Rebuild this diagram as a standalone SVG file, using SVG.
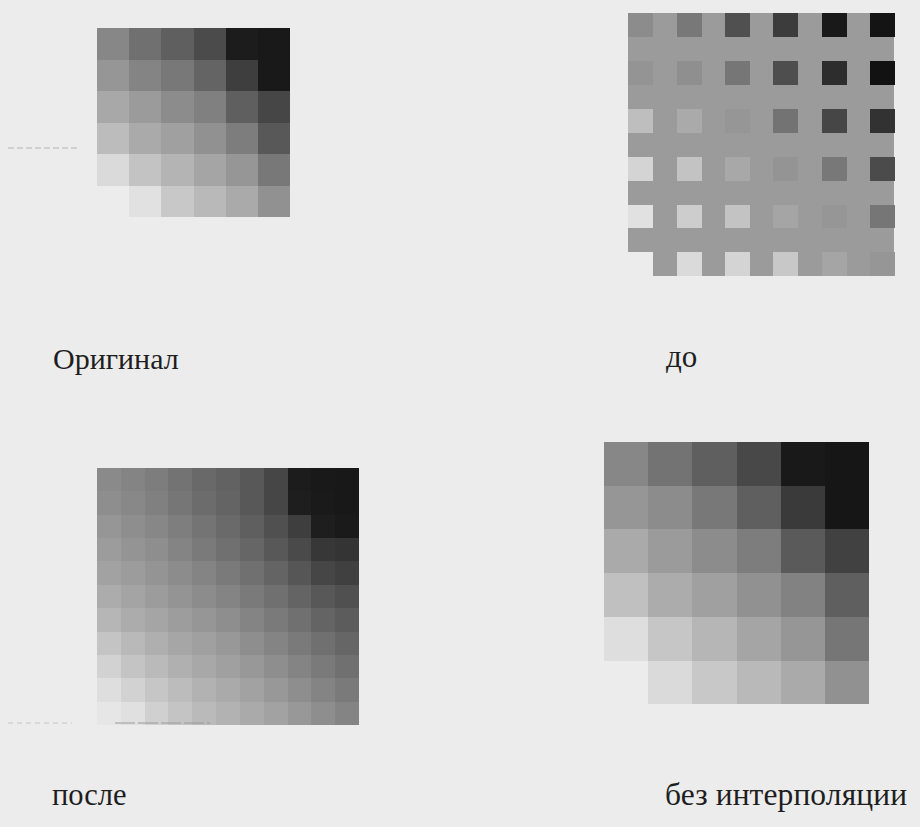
<svg xmlns="http://www.w3.org/2000/svg" width="920" height="827" viewBox="0 0 920 827">
<style>
.grid{shape-rendering:crispEdges}
.mark{stroke-linecap:butt;fill:none}
</style>
<rect x="0" y="0" width="920" height="827" fill="#ececec"/>
<g id="original" class="grid" transform="translate(97,28) scale(32.17,31.5)">
<rect x="0" y="0" width="1" height="1" fill="#878787"/><rect x="1" y="0" width="1" height="1" fill="#707070"/><rect x="2" y="0" width="1" height="1" fill="#5f5f5f"/><rect x="3" y="0" width="1" height="1" fill="#4b4b4b"/><rect x="4" y="0" width="1" height="1" fill="#1c1c1c"/><rect x="5" y="0" width="1" height="1" fill="#191919"/>
<rect x="0" y="1" width="1" height="1" fill="#969696"/><rect x="1" y="1" width="1" height="1" fill="#848484"/><rect x="2" y="1" width="1" height="1" fill="#787878"/><rect x="3" y="1" width="1" height="1" fill="#646464"/><rect x="4" y="1" width="1" height="1" fill="#3e3e3e"/><rect x="5" y="1" width="1" height="1" fill="#191919"/>
<rect x="0" y="2" width="1" height="1" fill="#a8a8a8"/><rect x="1" y="2" width="1" height="1" fill="#9b9b9b"/><rect x="2" y="2" width="1" height="1" fill="#8c8c8c"/><rect x="3" y="2" width="1" height="1" fill="#808080"/><rect x="4" y="2" width="1" height="1" fill="#5f5f5f"/><rect x="5" y="2" width="1" height="1" fill="#464646"/>
<rect x="0" y="3" width="1" height="1" fill="#bcbcbc"/><rect x="1" y="3" width="1" height="1" fill="#aaaaaa"/><rect x="2" y="3" width="1" height="1" fill="#a0a0a0"/><rect x="3" y="3" width="1" height="1" fill="#919191"/><rect x="4" y="3" width="1" height="1" fill="#7d7d7d"/><rect x="5" y="3" width="1" height="1" fill="#585858"/>
<rect x="0" y="4" width="1" height="1" fill="#dadada"/><rect x="1" y="4" width="1" height="1" fill="#c3c3c3"/><rect x="2" y="4" width="1" height="1" fill="#b4b4b4"/><rect x="3" y="4" width="1" height="1" fill="#a5a5a5"/><rect x="4" y="4" width="1" height="1" fill="#969696"/><rect x="5" y="4" width="1" height="1" fill="#787878"/>
<rect x="1" y="5" width="1" height="1" fill="#e1e1e1"/><rect x="2" y="5" width="1" height="1" fill="#c8c8c8"/><rect x="3" y="5" width="1" height="1" fill="#b9b9b9"/><rect x="4" y="5" width="1" height="1" fill="#aaaaaa"/><rect x="5" y="5" width="1" height="1" fill="#919191"/>
</g>
<g id="do" class="grid">
<path d="M628,13 H894 V276 H652.5 V252 H628 Z" fill="#9b9b9b"/>
<g transform="translate(628.3,13.3) scale(48.33,47.8)">
<rect x="0" y="0" width=".517" height=".5" fill="#8c8c8c"/><rect x="1" y="0" width=".517" height=".5" fill="#787878"/><rect x="2" y="0" width=".517" height=".5" fill="#505050"/><rect x="3" y="0" width=".517" height=".5" fill="#3c3c3c"/><rect x="4" y="0" width=".517" height=".5" fill="#191919"/><rect x="5" y="0" width=".517" height=".5" fill="#141414"/>
<rect x="0" y="1" width=".517" height=".5" fill="#949494"/><rect x="1" y="1" width=".517" height=".5" fill="#8f8f8f"/><rect x="2" y="1" width=".517" height=".5" fill="#767676"/><rect x="3" y="1" width=".517" height=".5" fill="#4e4e4e"/><rect x="4" y="1" width=".517" height=".5" fill="#2d2d2d"/><rect x="5" y="1" width=".517" height=".5" fill="#121212"/>
<rect x="0" y="2" width=".517" height=".5" fill="#bebebe"/><rect x="1" y="2" width=".517" height=".5" fill="#aaaaaa"/><rect x="2" y="2" width=".517" height=".5" fill="#969696"/><rect x="3" y="2" width=".517" height=".5" fill="#737373"/><rect x="4" y="2" width=".517" height=".5" fill="#464646"/><rect x="5" y="2" width=".517" height=".5" fill="#323232"/>
<rect x="0" y="3" width=".517" height=".5" fill="#d4d4d4"/><rect x="1" y="3" width=".517" height=".5" fill="#c3c3c3"/><rect x="2" y="3" width=".517" height=".5" fill="#a8a8a8"/><rect x="3" y="3" width=".517" height=".5" fill="#949494"/><rect x="4" y="3" width=".517" height=".5" fill="#787878"/><rect x="5" y="3" width=".517" height=".5" fill="#4b4b4b"/>
<rect x="0" y="4" width=".517" height=".5" fill="#e1e1e1"/><rect x="1" y="4" width=".517" height=".5" fill="#cdcdcd"/><rect x="2" y="4" width=".517" height=".5" fill="#c3c3c3"/><rect x="3" y="4" width=".517" height=".5" fill="#a5a5a5"/><rect x="4" y="4" width=".517" height=".5" fill="#969696"/><rect x="5" y="4" width=".517" height=".5" fill="#767676"/>
<rect x="1" y="5" width=".517" height=".5" fill="#dadada"/><rect x="2" y="5" width=".517" height=".5" fill="#d4d4d4"/><rect x="3" y="5" width=".517" height=".5" fill="#c8c8c8"/><rect x="4" y="5" width=".517" height=".5" fill="#a5a5a5"/><rect x="5" y="5" width=".517" height=".5" fill="#969696"/>
</g>
</g>
<g id="posle" class="grid" transform="translate(97,468) scale(23.82,23.36)">
<rect x="0" y="0" width="1" height="1" fill="#8a8a8a"/><rect x="1" y="0" width="1" height="1" fill="#848484"/><rect x="2" y="0" width="1" height="1" fill="#7d7d7d"/><rect x="3" y="0" width="1" height="1" fill="#737373"/><rect x="4" y="0" width="1" height="1" fill="#696969"/><rect x="5" y="0" width="1" height="1" fill="#626262"/><rect x="6" y="0" width="1" height="1" fill="#585858"/><rect x="7" y="0" width="1" height="1" fill="#464646"/><rect x="8" y="0" width="1" height="1" fill="#1c1c1c"/><rect x="9" y="0" width="1" height="1" fill="#191919"/><rect x="10" y="0" width="1" height="1" fill="#181818"/>
<rect x="0" y="1" width="1" height="1" fill="#8e8e8e"/><rect x="1" y="1" width="1" height="1" fill="#888888"/><rect x="2" y="1" width="1" height="1" fill="#808080"/><rect x="3" y="1" width="1" height="1" fill="#767676"/><rect x="4" y="1" width="1" height="1" fill="#6c6c6c"/><rect x="5" y="1" width="1" height="1" fill="#646464"/><rect x="6" y="1" width="1" height="1" fill="#585858"/><rect x="7" y="1" width="1" height="1" fill="#464646"/><rect x="8" y="1" width="1" height="1" fill="#1e1e1e"/><rect x="9" y="1" width="1" height="1" fill="#1a1a1a"/><rect x="10" y="1" width="1" height="1" fill="#181818"/>
<rect x="0" y="2" width="1" height="1" fill="#969696"/><rect x="1" y="2" width="1" height="1" fill="#8e8e8e"/><rect x="2" y="2" width="1" height="1" fill="#878787"/><rect x="3" y="2" width="1" height="1" fill="#7e7e7e"/><rect x="4" y="2" width="1" height="1" fill="#747474"/><rect x="5" y="2" width="1" height="1" fill="#6a6a6a"/><rect x="6" y="2" width="1" height="1" fill="#5f5f5f"/><rect x="7" y="2" width="1" height="1" fill="#505050"/><rect x="8" y="2" width="1" height="1" fill="#3e3e3e"/><rect x="9" y="2" width="1" height="1" fill="#1e1e1e"/><rect x="10" y="2" width="1" height="1" fill="#1a1a1a"/>
<rect x="0" y="3" width="1" height="1" fill="#9c9c9c"/><rect x="1" y="3" width="1" height="1" fill="#949494"/><rect x="2" y="3" width="1" height="1" fill="#8e8e8e"/><rect x="3" y="3" width="1" height="1" fill="#848484"/><rect x="4" y="3" width="1" height="1" fill="#7a7a7a"/><rect x="5" y="3" width="1" height="1" fill="#707070"/><rect x="6" y="3" width="1" height="1" fill="#666666"/><rect x="7" y="3" width="1" height="1" fill="#585858"/><rect x="8" y="3" width="1" height="1" fill="#4a4a4a"/><rect x="9" y="3" width="1" height="1" fill="#373737"/><rect x="10" y="3" width="1" height="1" fill="#343434"/>
<rect x="0" y="4" width="1" height="1" fill="#a2a2a2"/><rect x="1" y="4" width="1" height="1" fill="#9c9c9c"/><rect x="2" y="4" width="1" height="1" fill="#949494"/><rect x="3" y="4" width="1" height="1" fill="#8c8c8c"/><rect x="4" y="4" width="1" height="1" fill="#848484"/><rect x="5" y="4" width="1" height="1" fill="#7a7a7a"/><rect x="6" y="4" width="1" height="1" fill="#707070"/><rect x="7" y="4" width="1" height="1" fill="#646464"/><rect x="8" y="4" width="1" height="1" fill="#565656"/><rect x="9" y="4" width="1" height="1" fill="#464646"/><rect x="10" y="4" width="1" height="1" fill="#404040"/>
<rect x="0" y="5" width="1" height="1" fill="#acacac"/><rect x="1" y="5" width="1" height="1" fill="#a4a4a4"/><rect x="2" y="5" width="1" height="1" fill="#9c9c9c"/><rect x="3" y="5" width="1" height="1" fill="#949494"/><rect x="4" y="5" width="1" height="1" fill="#8c8c8c"/><rect x="5" y="5" width="1" height="1" fill="#848484"/><rect x="6" y="5" width="1" height="1" fill="#7a7a7a"/><rect x="7" y="5" width="1" height="1" fill="#707070"/><rect x="8" y="5" width="1" height="1" fill="#646464"/><rect x="9" y="5" width="1" height="1" fill="#585858"/><rect x="10" y="5" width="1" height="1" fill="#505050"/>
<rect x="0" y="6" width="1" height="1" fill="#b6b6b6"/><rect x="1" y="6" width="1" height="1" fill="#acacac"/><rect x="2" y="6" width="1" height="1" fill="#a5a5a5"/><rect x="3" y="6" width="1" height="1" fill="#9d9d9d"/><rect x="4" y="6" width="1" height="1" fill="#969696"/><rect x="5" y="6" width="1" height="1" fill="#8e8e8e"/><rect x="6" y="6" width="1" height="1" fill="#848484"/><rect x="7" y="6" width="1" height="1" fill="#7a7a7a"/><rect x="8" y="6" width="1" height="1" fill="#707070"/><rect x="9" y="6" width="1" height="1" fill="#646464"/><rect x="10" y="6" width="1" height="1" fill="#5c5c5c"/>
<rect x="0" y="7" width="1" height="1" fill="#c4c4c4"/><rect x="1" y="7" width="1" height="1" fill="#b9b9b9"/><rect x="2" y="7" width="1" height="1" fill="#afafaf"/><rect x="3" y="7" width="1" height="1" fill="#a6a6a6"/><rect x="4" y="7" width="1" height="1" fill="#a0a0a0"/><rect x="5" y="7" width="1" height="1" fill="#989898"/><rect x="6" y="7" width="1" height="1" fill="#8e8e8e"/><rect x="7" y="7" width="1" height="1" fill="#848484"/><rect x="8" y="7" width="1" height="1" fill="#7a7a7a"/><rect x="9" y="7" width="1" height="1" fill="#707070"/><rect x="10" y="7" width="1" height="1" fill="#666666"/>
<rect x="0" y="8" width="1" height="1" fill="#d2d2d2"/><rect x="1" y="8" width="1" height="1" fill="#c4c4c4"/><rect x="2" y="8" width="1" height="1" fill="#bababa"/><rect x="3" y="8" width="1" height="1" fill="#b0b0b0"/><rect x="4" y="8" width="1" height="1" fill="#a8a8a8"/><rect x="5" y="8" width="1" height="1" fill="#a0a0a0"/><rect x="6" y="8" width="1" height="1" fill="#989898"/><rect x="7" y="8" width="1" height="1" fill="#8e8e8e"/><rect x="8" y="8" width="1" height="1" fill="#848484"/><rect x="9" y="8" width="1" height="1" fill="#7a7a7a"/><rect x="10" y="8" width="1" height="1" fill="#707070"/>
<rect x="0" y="9" width="1" height="1" fill="#dedede"/><rect x="1" y="9" width="1" height="1" fill="#d2d2d2"/><rect x="2" y="9" width="1" height="1" fill="#c6c6c6"/><rect x="3" y="9" width="1" height="1" fill="#bcbcbc"/><rect x="4" y="9" width="1" height="1" fill="#b2b2b2"/><rect x="5" y="9" width="1" height="1" fill="#aaaaaa"/><rect x="6" y="9" width="1" height="1" fill="#a2a2a2"/><rect x="7" y="9" width="1" height="1" fill="#989898"/><rect x="8" y="9" width="1" height="1" fill="#8e8e8e"/><rect x="9" y="9" width="1" height="1" fill="#848484"/><rect x="10" y="9" width="1" height="1" fill="#7a7a7a"/>
<rect x="0" y="10" width="1" height="1" fill="#e6e6e6"/><rect x="1" y="10" width="1" height="1" fill="#e0e0e0"/><rect x="2" y="10" width="1" height="1" fill="#d0d0d0"/><rect x="3" y="10" width="1" height="1" fill="#c4c4c4"/><rect x="4" y="10" width="1" height="1" fill="#bababa"/><rect x="5" y="10" width="1" height="1" fill="#b2b2b2"/><rect x="6" y="10" width="1" height="1" fill="#aaaaaa"/><rect x="7" y="10" width="1" height="1" fill="#a2a2a2"/><rect x="8" y="10" width="1" height="1" fill="#989898"/><rect x="9" y="10" width="1" height="1" fill="#8e8e8e"/><rect x="10" y="10" width="1" height="1" fill="#848484"/>
</g>
<g id="bez-interpolyatsii" class="grid" transform="translate(604,442) scale(44.2,43.7)">
<rect x="0" y="0" width="1" height="1" fill="#878787"/><rect x="1" y="0" width="1" height="1" fill="#737373"/><rect x="2" y="0" width="1" height="1" fill="#5f5f5f"/><rect x="3" y="0" width="1" height="1" fill="#484848"/><rect x="4" y="0" width="1" height="1" fill="#191919"/><rect x="5" y="0" width="1" height="1" fill="#161616"/>
<rect x="0" y="1" width="1" height="1" fill="#969696"/><rect x="1" y="1" width="1" height="1" fill="#8c8c8c"/><rect x="2" y="1" width="1" height="1" fill="#787878"/><rect x="3" y="1" width="1" height="1" fill="#5f5f5f"/><rect x="4" y="1" width="1" height="1" fill="#3a3a3a"/><rect x="5" y="1" width="1" height="1" fill="#161616"/>
<rect x="0" y="2" width="1" height="1" fill="#aaaaaa"/><rect x="1" y="2" width="1" height="1" fill="#9b9b9b"/><rect x="2" y="2" width="1" height="1" fill="#8c8c8c"/><rect x="3" y="2" width="1" height="1" fill="#7d7d7d"/><rect x="4" y="2" width="1" height="1" fill="#5a5a5a"/><rect x="5" y="2" width="1" height="1" fill="#414141"/>
<rect x="0" y="3" width="1" height="1" fill="#c0c0c0"/><rect x="1" y="3" width="1" height="1" fill="#acacac"/><rect x="2" y="3" width="1" height="1" fill="#a0a0a0"/><rect x="3" y="3" width="1" height="1" fill="#919191"/><rect x="4" y="3" width="1" height="1" fill="#828282"/><rect x="5" y="3" width="1" height="1" fill="#5f5f5f"/>
<rect x="0" y="4" width="1" height="1" fill="#dedede"/><rect x="1" y="4" width="1" height="1" fill="#c6c6c6"/><rect x="2" y="4" width="1" height="1" fill="#b6b6b6"/><rect x="3" y="4" width="1" height="1" fill="#a5a5a5"/><rect x="4" y="4" width="1" height="1" fill="#969696"/><rect x="5" y="4" width="1" height="1" fill="#767676"/>
<rect x="1" y="5" width="1" height="1" fill="#dadada"/><rect x="2" y="5" width="1" height="1" fill="#c8c8c8"/><rect x="3" y="5" width="1" height="1" fill="#b9b9b9"/><rect x="4" y="5" width="1" height="1" fill="#aaaaaa"/><rect x="5" y="5" width="1" height="1" fill="#919191"/>
</g>
<g id="scan-marks" class="mark">
<line x1="8" y1="148" x2="80" y2="148" stroke="#b4b4b4" stroke-width="1.2" stroke-dasharray="6 3"/>
<line x1="8" y1="723" x2="72" y2="723" stroke="#c4c4c4" stroke-width="1" stroke-dasharray="5 4"/>
<line x1="115" y1="723" x2="210" y2="723" stroke="#999999" stroke-width="1.2" stroke-dasharray="20 3"/>
</g>
<g id="labels" fill="#1e1e1e">
<text x="53" y="369" font-family="Liberation Serif" font-size="30">Оригинал</text>
<text x="666" y="367" font-family="Liberation Serif" font-size="31">до</text>
<text x="52" y="805" font-family="Liberation Serif" font-size="30.5">после</text>
<text x="665" y="805" font-family="Liberation Serif" font-size="31.5" textLength="242">без интерполяции</text>
</g>
</svg>
